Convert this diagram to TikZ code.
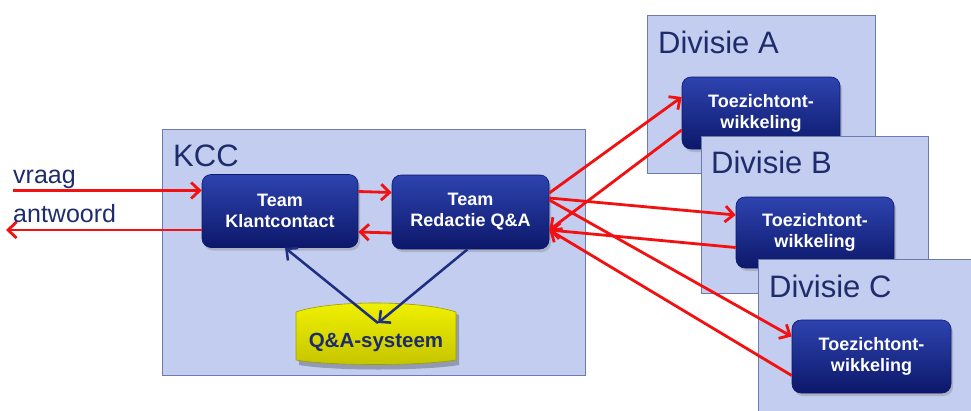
\documentclass[tikz,border=0pt]{standalone}
\usepackage{fontspec}
\setmainfont{Liberation Sans}
\usetikzlibrary{arrows.meta,shadows,calc}
\definecolor{boxfill}{HTML}{C3CDF0}
\definecolor{boxline}{HTML}{6E7BAA}
\definecolor{navytxt}{HTML}{1F2C6C}
\definecolor{nodetop}{HTML}{2E43B0}
\definecolor{nodebot}{HTML}{0C186A}
\definecolor{arrred}{HTML}{F21010}
\definecolor{arrblue}{HTML}{1E2E80}
\definecolor{yeltop}{HTML}{F2F200}
\definecolor{yelbot}{HTML}{C4C400}
\tikzset{
  area/.style={draw=boxline,fill=boxfill,line width=1pt},
  team/.style={rounded corners=9pt,top color=nodetop,bottom color=nodebot,
    draw=nodebot,line width=0.6pt,text=white,align=center,inner sep=0pt,
    font=\bfseries\fontsize{18}{21}\selectfont,
    drop shadow={shadow xshift=2pt,shadow yshift=-3pt,opacity=0.35}},
  title/.style={anchor=base west,inner sep=0pt,text=navytxt,font=\fontsize{31}{31}\selectfont},
  lbl/.style={anchor=base west,inner sep=0pt,text=navytxt,font=\fontsize{25}{25}\selectfont},
  redarr/.style={draw=arrred,line width=2.8pt,-{Straight Barb[length=8.5pt,width=16pt,line width=2.8pt]}},
  bluearr/.style={draw=arrblue,line width=2.5pt,-{Straight Barb[length=8.5pt,width=16pt,line width=2.5pt]}}
}
\begin{document}
\begin{tikzpicture}[x=1pt,y=-1pt]
\useasboundingbox (0,0) rectangle (971,410);
\clip (0,0) rectangle (971,410);
% KCC area
\draw[area] (162,129) rectangle (585,375);
\node[title] (kcct) at (173,166) {KCC};
\node[team,minimum width=156pt,minimum height=73pt] (kc) at (280,211) {Team\\Klantcontact};
\node[team,minimum width=157pt,minimum height=74pt] (red) at (470.5,212) {Team\\Redactie Q\&A};
% Q&A system
\fill[black,opacity=0.25] (299,315) .. controls (333,303) and (423,303) .. (459,315) -- (459,365) .. controls (423,371) and (333,371) .. (299,365) -- cycle;
\shade[top color=yeltop,bottom color=yelbot,draw=yelbot!80!black,line width=0.6pt]
  (296,312) .. controls (330,300) and (420,300) .. (456,312) -- (456,360) .. controls (420,366) and (330,366) .. (296,360) -- cycle;
\node[inner sep=0pt,text=navytxt,font=\bfseries\fontsize{20.5}{20.5}\selectfont] (qa) at (376,342) {Q\&A-systeem};
\coordinate (qtop) at (378,323);
% Divisie A
\draw[area] (647,15) rectangle (875,173);
\node[title] (dat) at (658,53) {Divisie A};
\node[team,minimum width=158pt,minimum height=72pt] (tA) at (761,113) {Toezichtont-\\wikkeling};
% Divisie B
\draw[area] (701,136) rectangle (928,293);
\node[title] (dbt) at (711,173) {Divisie B};
\node[team,minimum width=158pt,minimum height=71pt] (tB) at (815,232.5) {Toezichtont-\\wikkeling};
% Divisie C
\draw[area] (758,259) rectangle (990,430);
\node[title] (dct) at (769,297) {Divisie C};
\node[team,minimum width=159pt,minimum height=73pt] (tC) at (871.5,356.5) {Toezichtont-\\wikkeling};
% labels
\node[lbl] (vr) at (13,183) {vraag};
\node[lbl] (an) at (13,222) {antwoord};
\coordinate (vin) at (13,190.5);
\coordinate (vout) at (6,230);
% arrows
\draw[redarr] (vin) -- ([yshift=20.5pt]kc.west);
\draw[redarr] ([yshift=-19pt]kc.west) -- (vout);
\draw[redarr] ([yshift=19.5pt]kc.east) -- ([yshift=19.5pt]red.west);
\draw[redarr] ([yshift=-21pt]red.west) -- ([yshift=-21pt]kc.east);
\draw[bluearr] ([xshift=-3pt]red.south) -- (qtop);
\draw[bluearr] (qtop) -- ([xshift=5pt]kc.south);
\draw[redarr] ([yshift=19pt]red.east) -- ([yshift=16pt]tA.west);
\draw[redarr] ([yshift=-17pt]tA.west) -- ([yshift=-18pt]red.east);
\draw[redarr] ([yshift=14pt]red.east) -- ([yshift=17.5pt]tB.west);
\draw[redarr] ([yshift=-15pt]tB.west) -- ([yshift=-18pt]red.east);
\draw[redarr] ([yshift=12pt]red.east) -- ([yshift=20pt]tC.west);
\draw[redarr] ([yshift=-19pt]tC.west) -- ([yshift=-18pt]red.east);
\end{tikzpicture}
\end{document}
